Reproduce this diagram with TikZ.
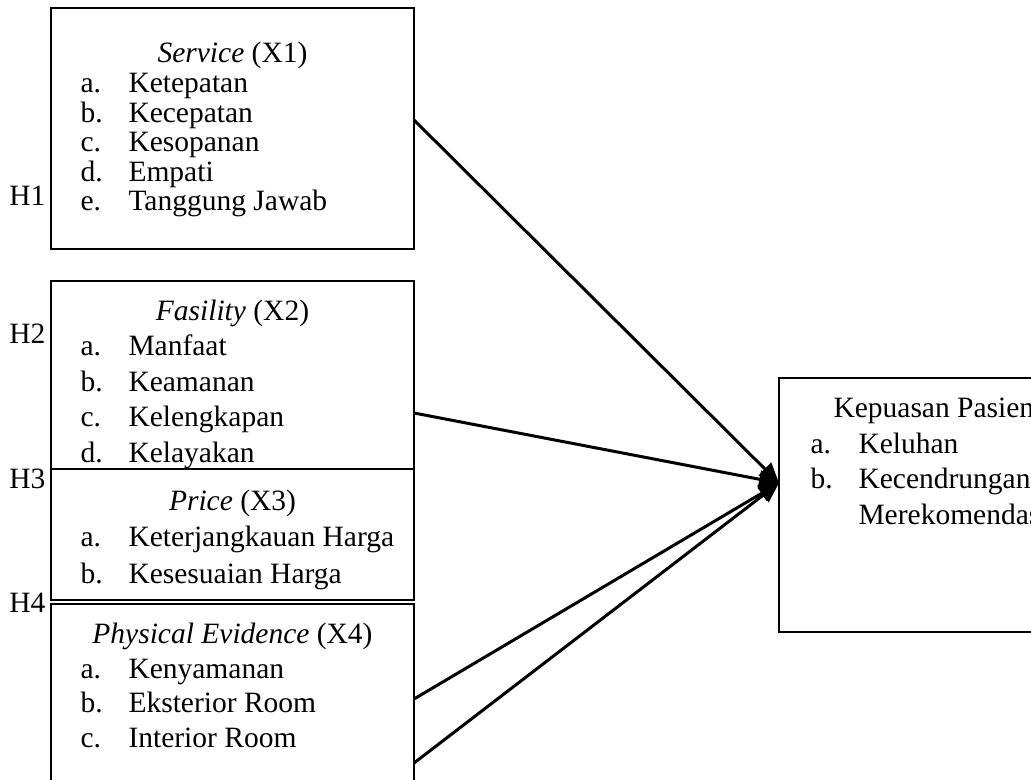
\documentclass[tikz,border=0pt]{standalone}
\usepackage{fontspec}
\setmainfont{Liberation Serif}
\usetikzlibrary{calc,arrows.meta}

\begin{document}
\begin{tikzpicture}[
    x=0.4pt,y=-0.4pt,
    font=\fontsize{11.8}{14}\selectfont,
    base/.style={rectangle,draw,line width=0.8pt,inner sep=0pt,outer sep=0pt,minimum width=145.2pt},
    varbox/.style={base},
    resultbox/.style={base,minimum width=124.4pt},
    hlabel/.style={anchor=base east,inner sep=0pt},
    heading/.style={anchor=base,inner sep=0pt},
    itemtext/.style={anchor=base west,inner sep=0pt},
    link/.style={line width=1.2pt,-{Triangle[length=8pt,width=7pt]}}
  ]
  \useasboundingbox (0,0) rectangle (1031,779);
  \clip (0,0) rectangle (1031,779);

  % variable boxes
  \node(x1) [varbox,minimum height=96.4pt] at (232.5,128.5) {};
  \node(x1h) [heading] at (232.5,63) {\textit{Service} (X1)};
  \foreach \l/\t [count=\i] in {a./Ketepatan,b./Kecepatan,c./Kesopanan,d./Empati,e./Tanggung Jawab}
    \node(x1i\i) [itemtext] at (80,{63+29.5*\i}) {\makebox[19.2pt][l]{\l}\t};

  \node(x2) [varbox,minimum height=75.2pt] at (232.5,375) {};
  \node(x2h) [heading] at (232.5,320) {\textit{Fasility} (X2)};
  \foreach \l/\t [count=\i] in {a./Manfaat,b./Keamanan,c./Kelengkapan,d./Kelayakan}
    \node(x2i\i) [itemtext] at (80,{320+35.5*\i}) {\makebox[19.2pt][l]{\l}\t};

  \node(x3) [varbox,minimum height=52.4pt] at (232.5,534.5) {};
  \node(x3h) [heading] at (232.5,510) {\textit{Price} (X3)};
  \foreach \l/\t [count=\i] in {a./Keterjangkauan Harga,b./Kesesuaian Harga}
    \node(x3i\i) [itemtext] at (80,{510+36.5*\i}) {\makebox[19.2pt][l]{\l}\t};

  \node(x4) [varbox,minimum height=78.4pt] at (232.5,702) {};
  \node(x4h) [heading] at (232.5,643.5) {\textit{Physical Evidence} (X4)};
  \foreach \l/\t [count=\i] in {a./Kenyamanan,b./Eksterior Room,c./Interior Room}
    \node(x4i\i) [itemtext] at (80,{643.5+34.5*\i}) {\makebox[19.2pt][l]{\l}\t};

  % hypothesis labels
  \node(h1) [hlabel] at (46,205) {H1};
  \node(h2) [hlabel] at (46,343) {H2};
  \node(h3) [hlabel] at (46,488) {H3};
  \node(h4) [hlabel] at (46,612) {H4};

  % dependent variable
  \node(y) [resultbox,minimum height=101.6pt] at (934.5,505) {};
  \node(yh) [itemtext] at (833,417.5) {Kepuasan Pasien};
  \node(yi1) [itemtext] at (810,453) {\makebox[19.2pt][l]{a.}Keluhan};
  \node(yi2) [itemtext] at (810,488.5) {\makebox[19.2pt][l]{b.}Kecendrungan};
  \node(yi3) [itemtext] at (858,524) {Merekomendasi};

  \coordinate (tip) at ($(y.north west)+(0,105)$);
  \coordinate (o1) at ($(x1.north east)+(0,112)$);
  \coordinate (o2) at ($(x2.north east)+(0,132)$);
  \coordinate (o4a) at ($(x4.north east)+(0,95)$);
  \coordinate (o4b) at ($(x4.north east)+(0,159)$);

  \draw[link] (o1) -- (tip);
  \draw[link] (o2) -- (tip);
  \draw[link] (o4a) -- (tip);
  \draw[link] (o4b) -- (tip);
\end{tikzpicture}
\end{document}
